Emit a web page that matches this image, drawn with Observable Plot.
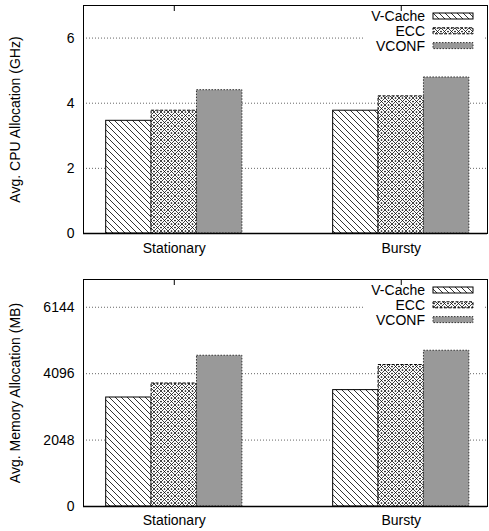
<!DOCTYPE html>
<html><head><meta charset="utf-8">
<script src="https://cdn.jsdelivr.net/npm/d3@7"></script>
<script src="https://cdn.jsdelivr.net/npm/@observablehq/plot@0.6"></script>
<style>
body{margin:0;background:#fff;}
#chart svg{display:block;}
</style>
</head><body><div id="chart"></div>
<script>
const categories = ["Stationary", "Bursty"];
const series = ["V-Cache", "ECC", "VCONF"];
const cpuVCache = [3.46, 3.77];
const cpuECC = [3.77, 4.21];
const cpuVCONF = [4.40, 4.79];
const memVCache = [3361, 3589];
const memECC = [3793, 4362];
const memVCONF = [4649, 4803];
const cpuTicks = [0, 2, 4, 6];
const memTicks = [0, 2048, 4096, 6144];
const cpuLabel = "Avg. CPU Allocation (GHz)";
const memLabel = "Avg. Memory Allocation (MB)";

const barW = 0.2;
function rows(vals) {
  const out = [];
  vals.forEach((arr, si) => arr.forEach((v, gi) => {
    const x1 = gi + (si - 1.5) * barW;
    out.push({series: series[si], x1, x2: x1 + barW, value: v});
  }));
  return out;
}

function makeDefs(pre) {
  return () => {
    const g = d3.create("svg:g");
    const defs = g.append("defs");
    const p1 = defs.append("pattern").attr("id", pre + "vc").attr("patternUnits", "userSpaceOnUse").attr("width", 6).attr("height", 6);
    p1.append("rect").attr("width", 6).attr("height", 6).attr("fill", "white");
    p1.append("path").attr("d", "M0,0L6,6M-1,5L1,7M5,-1L7,1").attr("stroke", "black").attr("stroke-width", 0.8);
    const p2 = defs.append("pattern").attr("id", pre + "ecc").attr("patternUnits", "userSpaceOnUse").attr("width", 7).attr("height", 7);
    p2.append("rect").attr("width", 7).attr("height", 7).attr("fill", "white");
    p2.append("path").attr("d", "M0,0L7,7M7,0L0,7").attr("stroke", "black").attr("stroke-width", 0.75);
    [[3.5,0],[0,3.5],[7,3.5],[3.5,7]].forEach(([cx,cy]) => p2.append("circle").attr("cx", cx).attr("cy", cy).attr("r", 0.85).attr("fill", "black"));
    return g.node();
  };
}

const styles = [
  {key: "vc", stroke: "black", dash: null},
  {key: "ecc", stroke: "black", dash: "3,1.5"},
  {key: null, stroke: "#333", dash: "1.5,1.5", fill: "#999999"}
];

function legendMark(pre) {
  return (index, scales, values, dims) => {
    const right = dims.width - dims.marginRight;
    const top = dims.marginTop;
    const g = d3.create("svg:g");
    series.forEach((s, i) => {
      const cy = top + 11 + i * 14.8;
      g.append("text").attr("x", right - 62).attr("y", cy).attr("dy", "0.35em").attr("text-anchor", "end").attr("fill", "black").text(s);
      const st = styles[i];
      g.append("rect").attr("x", right - 54).attr("y", cy - 3).attr("width", 40).attr("height", 6)
        .attr("fill", st.key ? `url(#${pre}${st.key})` : st.fill)
        .attr("stroke", st.stroke).attr("stroke-width", 1)
        .attr("stroke-dasharray", st.dash);
    });
    return g.node();
  };
}

function legendBg() {
  return (index, scales, values, dims) => {
    const right = dims.width - dims.marginRight;
    const g = d3.create("svg:g");
    g.append("rect").attr("x", right - 124).attr("y", dims.marginTop + 1).attr("width", 122).attr("height", 48).attr("fill", "white");
    return g.node();
  };
}

function panel({pre, vals, ticks, label, yMax, height, marginTop, marginBottom, tickPad}) {
  const data = rows(vals);
  const bars = series.map((s, i) => {
    const st = styles[i];
    return Plot.rect(data.filter(d => d.series === s), {
      x1: "x1", x2: "x2", y1: 0, y2: "value",
      fill: st.key ? `url(#${pre}${st.key})` : st.fill,
      stroke: st.stroke, strokeWidth: 1, strokeDasharray: st.dash
    });
  });
  return Plot.plot({
    width: 489, height, marginTop, marginBottom, marginLeft: 83, marginRight: 2,
    style: {fontFamily: "'Liberation Sans', Arial, sans-serif", fontSize: "14px", color: "black", background: "white", overflow: "visible"},
    x: {domain: [-0.4, 1.38]},
    y: {domain: [0, yMax]},
    marks: [
      makeDefs(pre),
      Plot.gridY(ticks, {stroke: "#666", strokeOpacity: 1, strokeDasharray: "1,2"}),
      legendBg(),
      ...bars,
      Plot.frame({stroke: "black", strokeWidth: 1}),
      Plot.ruleY([0], {stroke: "black", strokeWidth: 1.6}),
      Plot.axisY({ticks, tickSize: 0, tickPadding: 9, label: null, tickFormat: d => String(d)}),
      Plot.axisX({ticks: [0, 1], tickSize: 0, tickPadding: tickPad, label: null, tickFormat: i => categories[i]}),
      Plot.axisX({anchor: "top", ticks: [0, 1], tickSize: -5, label: null, tickFormat: () => ""}),
      Plot.text([label], {frameAnchor: "left", dx: -68, rotate: -90, textAnchor: "middle", fontSize: 14}),
      legendMark(pre)
    ]
  });
}

const chart = document.getElementById("chart");
chart.append(panel({pre: "a", vals: [cpuVCache, cpuECC, cpuVCONF], ticks: cpuTicks, label: cpuLabel, yMax: 7, height: 258, marginTop: 5, marginBottom: 25, tickPad: 10}));
chart.append(panel({pre: "b", vals: [memVCache, memECC, memVCONF], ticks: memTicks, label: memLabel, yMax: 7000, height: 273, marginTop: 21, marginBottom: 25, tickPad: 9}));
</script>
</body></html>
